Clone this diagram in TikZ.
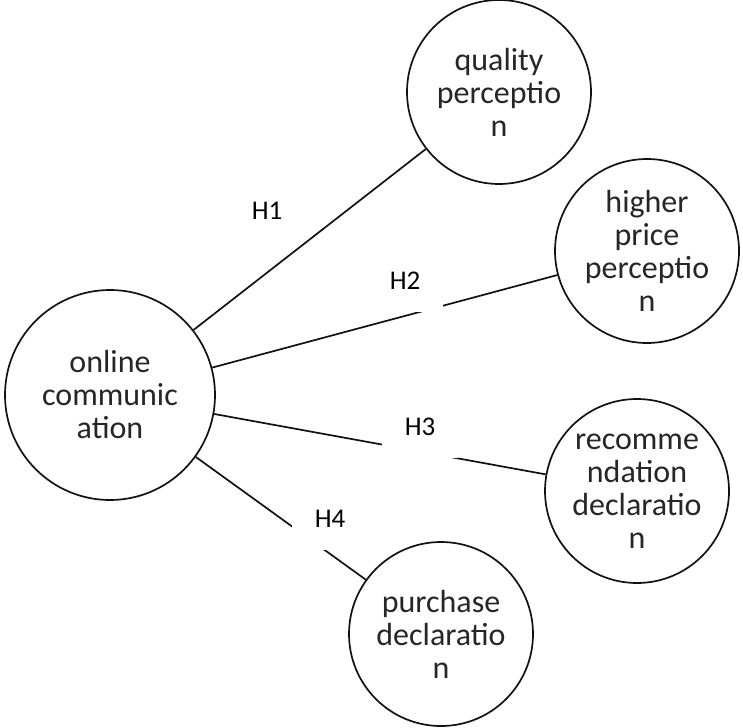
\documentclass[tikz,border=0pt]{standalone}
\usepackage{fontspec}
\setmainfont{Carlito}
\usepackage{xcolor}
\definecolor{ink}{HTML}{111111}
\definecolor{inkgray}{HTML}{262626}
\tikzset{
  bubble/.style={draw=ink,fill=white,circle,line width=1.7pt,
                 inner sep=0pt,minimum size=184pt,align=center,
                 text=inkgray,font=\fontsize{32}{33}\selectfont},
  bigbubble/.style={bubble,minimum size=210pt},
  link/.style={draw=ink,line width=1.7pt},
  hyplabel/.style={fill=white,inner sep=0pt,minimum width=76pt,
                   minimum height=62pt,text=black,
                   font=\fontsize{27}{32}\selectfont}
}
\begin{document}
\begin{tikzpicture}[x=1pt,y=-1pt]
  \useasboundingbox (0,0) rectangle (743,727);

  \node[bigbubble] (online)    at (110,395) {online\\communic\\ation};
  \node[bubble]    (quality)   at (499,92)  {quality\\perceptio\\n};
  \node[bubble]    (price)     at (647,251) {higher\\price\\perceptio\\n};
  \node[bubble]    (recommend) at (637,491) {recomme\\ndation\\declaratio\\n};
  \node[bubble]    (purchase)  at (441,634) {purchase\\declaratio\\n};

  % hypothesis links, centre to centre
  \foreach \target in {quality,price,recommend,purchase} {
    \draw[link] (online) -- (\target);
  }

  % white label boxes sit on top of the links
  \node[hyplabel] (h1) at (267,211) {H1};
  \node[hyplabel] (h2) at (405,281) {H2};
  \node[hyplabel] (h3) at (420,427) {H3};
  \node[hyplabel] (h4) at (330,519) {H4};
\end{tikzpicture}
\end{document}
